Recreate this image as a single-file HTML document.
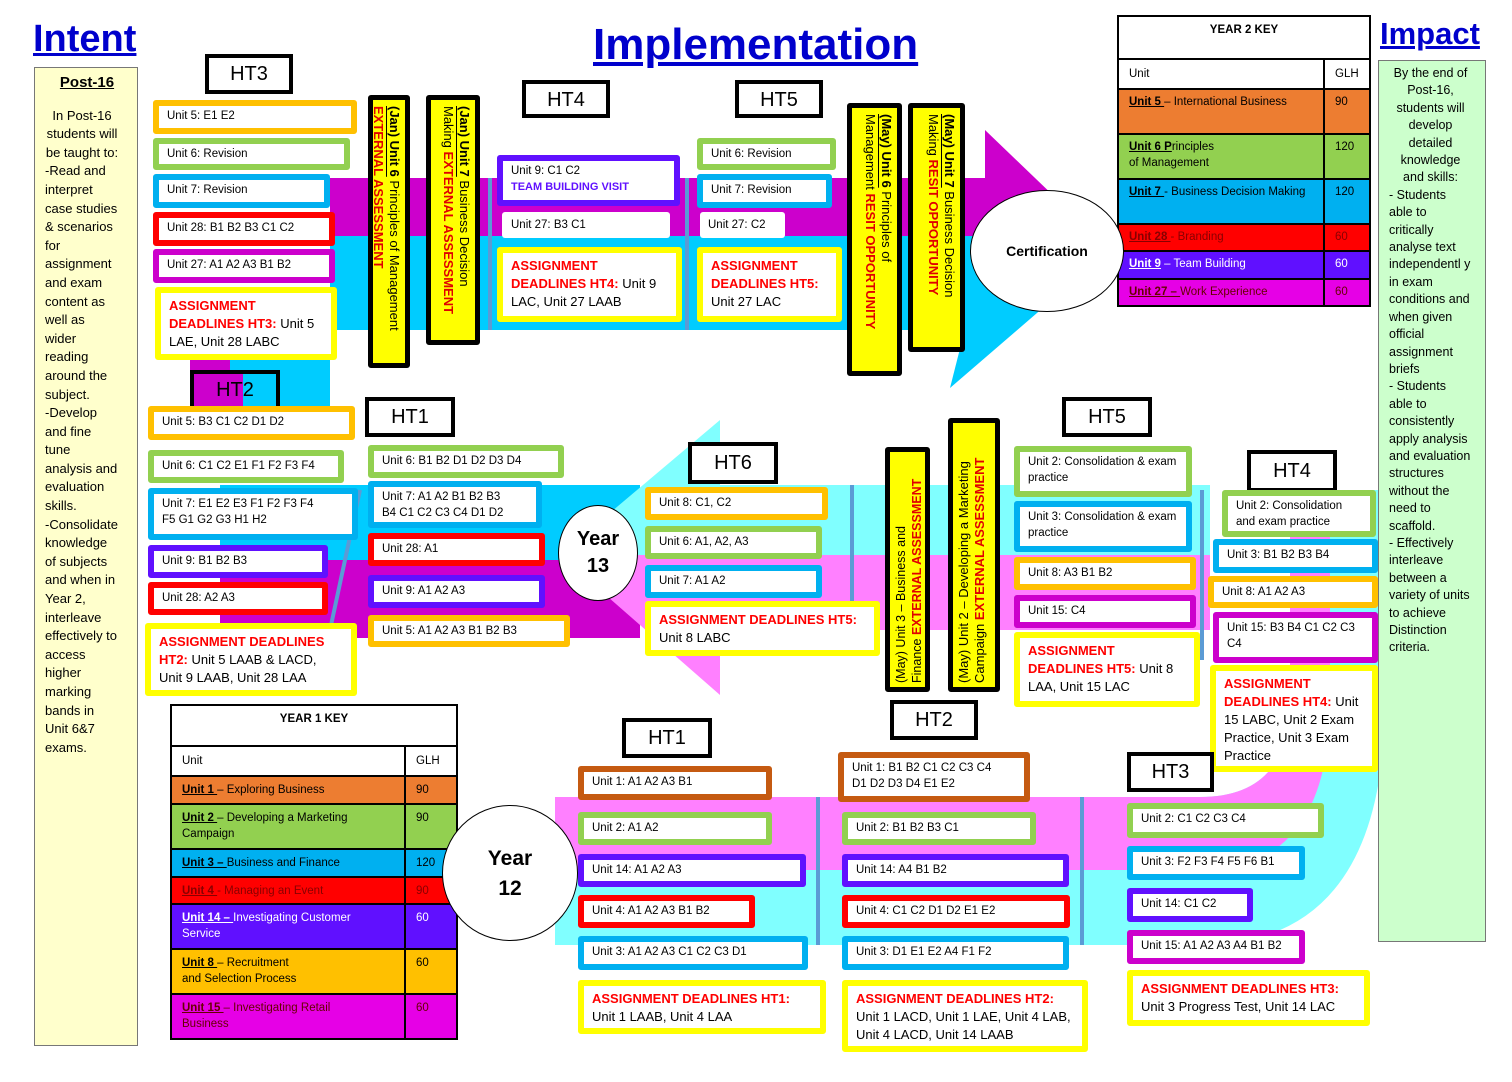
<!DOCTYPE html>
<html><head><meta charset="utf-8"><style>
body{margin:0;width:1512px;height:1082px;position:relative;background:#fff;font-family:"Liberation Sans",sans-serif;overflow:hidden}
.b{position:absolute;box-sizing:border-box;background:#fff;border:6px solid;font-size:11.5px;padding:2px 8px;line-height:16px;border-radius:3px;color:#000;white-space:nowrap}
.y{border-color:#ffff00;font-size:13px;line-height:18px;padding:4px 8px;white-space:normal}
.y b{color:#ff0000}
.o{border-color:#ffc000}.g{border-color:#92d050}.c{border-color:#00b0f0}.r{border-color:#ff0000}.m{border-color:#cc00cc}.p{border-color:#6010ff}.br{border-color:#c55a11}
.h{position:absolute;box-sizing:border-box;border:4px solid #000;background:#fff;font-size:20px;text-align:center;line-height:32px}
.v{position:absolute;box-sizing:border-box;border:5px solid #000;background:#ffff00;font-size:13px;line-height:16px;writing-mode:vertical-rl;padding:6px 3px;border-radius:3px;white-space:nowrap}
.v b{color:#e00000}
.vu{transform:rotate(180deg)}
.el{position:absolute;border:1px solid #000;border-radius:50%;background:#fff;text-align:center;font-weight:bold}
table{position:absolute;border-collapse:collapse;font-size:11.5px}
td{border:2px solid #000;padding:1px 10px;vertical-align:top;line-height:16px;box-sizing:border-box}
td u{font-weight:bold}
</style></head><body>
<svg style="position:absolute;left:0;top:0" width="1512" height="1082">
<rect x="190" y="330" width="140" height="80" fill="#00ccff"/>
<rect x="190" y="330" width="40" height="80" fill="#cc00cc"/>
<rect x="330" y="178" width="660" height="58" fill="#cc00cc"/>
<rect x="330" y="236" width="660" height="94" fill="#00ccff"/>
<polygon points="985,130 1110,250 985,250" fill="#cc00cc"/>
<polygon points="985,250 1110,250 950,388" fill="#00ccff"/>
<rect x="220" y="485" width="420" height="75" fill="#00ccff"/>
<rect x="220" y="560" width="420" height="78" fill="#cc00cc"/>
<polygon points="720,420 560,555 720,555" fill="#80ffff"/>
<polygon points="560,555 720,555 720,695" fill="#ff80ff"/>
<rect x="720" y="485" width="490" height="70" fill="#80ffff"/>
<rect x="720" y="555" width="490" height="75" fill="#ff80ff"/>
<path d="M1200,797 L1200,945 Q1385,945 1385,700 L1385,490 L1290,490 L1290,700 Q1290,797 1200,797 Z" fill="#80ffff"/>
<path d="M1200,797 L1200,870 Q1330,870 1330,700 L1330,490 L1290,490 L1290,700 Q1290,797 1200,797Z" fill="#ff80ff"/>
<rect x="555" y="797" width="660" height="73" fill="#ff80ff"/>
<rect x="555" y="870" width="660" height="75" fill="#80ffff"/>
<g stroke="#5b9bd5" stroke-width="4">
<line x1="490" y1="178" x2="490" y2="330"/><line x1="687" y1="178" x2="687" y2="330"/>
<line x1="852" y1="485" x2="852" y2="655"/><line x1="1202" y1="490" x2="1202" y2="660"/>
<line x1="818" y1="797" x2="818" y2="945"/><line x1="1082" y1="797" x2="1082" y2="945"/>
<line x1="360" y1="490" x2="330" y2="630"/>
</g>
</svg>

<div style="position:absolute;left:33px;top:18px;font-size:38px;font-weight:bold;color:#0000cc;text-decoration:underline">Intent</div>
<div style="position:absolute;left:593px;top:20px;font-size:44px;font-weight:bold;color:#0000cc;text-decoration:underline">Implementation</div>
<div style="position:absolute;left:1380px;top:16px;font-size:31px;font-weight:bold;color:#0000cc;text-decoration:underline">Impact</div>

<div style="position:absolute;left:34px;top:67px;width:104px;height:979px;box-sizing:border-box;border:1px solid #777;background:#ffffcc;font-size:13px;line-height:18.6px;padding:6px 18px 0 10px">
<div style="text-align:center;font-weight:bold;text-decoration:underline;font-size:15px;margin-bottom:14px;margin-right:-10px">Post-16</div>
<div style="text-align:center">In Post-16 students will be taught to:</div>
-Read and interpret case studies &amp; scenarios for assignment and exam content as well as wider reading around the subject.<br>-Develop and fine tune analysis and evaluation skills.<br>-Consolidate knowledge of subjects and when in Year 2, interleave effectively to access higher marking bands in Unit 6&amp;7 exams.</div>

<div style="position:absolute;left:1378px;top:60px;width:108px;height:882px;box-sizing:border-box;border:1px solid #777;background:#ccffcc;font-size:12.5px;line-height:17.4px;padding:4px 13px 0 10px">
<div style="text-align:center">By the end of Post-16, students will develop detailed knowledge and skills:</div>- Students able to critically analyse text independentl y in exam conditions and when given official assignment briefs<br>- Students able to consistently apply analysis and evaluation structures without the need to scaffold.<br>- Effectively interleave between a variety of units to achieve Distinction criteria.</div>

<table style="left:1117px;top:15px;width:254px">
<tr><td colspan="2" style="height:43px;text-align:center;font-weight:bold;padding-top:5px">YEAR 2 KEY</td></tr>
<tr><td style="height:30px;padding-top:6px">Unit</td><td style="width:46px;padding-top:6px">GLH</td></tr>
<tr style="background:#ed7d31"><td style="height:45px;padding-top:4px"><u>Unit 5 </u>– International Business</td><td style="padding-top:4px">90</td></tr>
<tr style="background:#92d050"><td style="height:45px;padding-top:4px"><u>Unit 6 P</u>rinciples<br>of Management</td><td style="padding-top:4px">120</td></tr>
<tr style="background:#00b0f0"><td style="height:45px;padding-top:4px"><u>Unit 7 </u>- Business Decision Making</td><td style="padding-top:4px">120</td></tr>
<tr style="background:#ff0000;color:#800"><td style="height:27px;padding-top:4px"><u>Unit 28 </u>- Branding</td><td style="padding-top:4px">60</td></tr>
<tr style="background:#6010ff;color:#fff"><td style="height:28px;padding-top:4px"><u>Unit 9</u> – Team Building</td><td style="padding-top:4px">60</td></tr>
<tr style="background:#e600e6;color:#600"><td style="height:27px;padding-top:4px"><u>Unit 27 – </u>Work Experience</td><td style="padding-top:4px">60</td></tr>
</table>

<table style="left:170px;top:704px;width:288px">
<tr><td colspan="2" style="height:41px;text-align:center;font-weight:bold;padding-top:5px">YEAR 1 KEY</td></tr>
<tr><td style="height:30px;padding-top:6px">Unit</td><td style="width:52px;padding-top:6px">GLH</td></tr>
<tr style="background:#ed7d31"><td style="height:28px;padding-top:5px"><u>Unit 1 </u>– Exploring Business</td><td style="padding-top:5px">90</td></tr>
<tr style="background:#92d050"><td style="height:45px;padding-top:5px"><u>Unit 2 </u>– Developing a Marketing Campaign</td><td style="padding-top:5px">90</td></tr>
<tr style="background:#00b0f0"><td style="height:28px;padding-top:5px"><u>Unit 3 – </u>Business and Finance</td><td style="padding-top:5px">120</td></tr>
<tr style="background:#ff0000;color:#800"><td style="height:27px;padding-top:5px"><u>Unit 4 </u>- Managing an Event</td><td style="padding-top:5px">90</td></tr>
<tr style="background:#6010ff;color:#fff"><td style="height:45px;padding-top:5px"><u>Unit 14 – </u>Investigating Customer<br>Service</td><td style="padding-top:5px">60</td></tr>
<tr style="background:#ffc000"><td style="height:45px;padding-top:5px"><u>Unit 8 </u>– Recruitment<br>and Selection Process</td><td style="padding-top:5px">60</td></tr>
<tr style="background:#e600e6;color:#600"><td style="height:45px;padding-top:5px"><u>Unit 15 </u>– Investigating Retail<br>Business</td><td style="padding-top:5px">60</td></tr>
</table>

<div class="h" style="left:205px;top:54px;width:88px;height:40px">HT3</div>
<div class="b o" style="left:153px;top:100px;width:204px;height:34px">Unit 5: E1 E2</div>
<div class="b g" style="left:153px;top:138px;width:197px;height:32px">Unit 6: Revision</div>
<div class="b c" style="left:153px;top:174px;width:177px;height:34px">Unit 7: Revision</div>
<div class="b r" style="left:153px;top:212px;width:182px;height:34px">Unit 28: B1 B2 B3 C1 C2</div>
<div class="b m" style="left:153px;top:249px;width:182px;height:34px">Unit 27: A1 A2 A3 B1 B2</div>
<div class="b y" style="left:155px;top:287px;width:182px;height:73px"><b>ASSIGNMENT DEADLINES HT3:</b> Unit 5 LAE, Unit 28 LABC</div>
<div class="v" style="left:368px;top:95px;width:42px;height:273px"><span><b style="color:#000;text-decoration:underline">(Jan) Unit 6</b> Principles of Management<br><b>EXTERNAL ASSESSMENT</b></span></div>
<div class="v" style="left:426px;top:95px;width:54px;height:250px"><span><b style="color:#000;text-decoration:underline">(Jan) Unit 7</b> Business Decision<br>Making <b>EXTERNAL ASSESSMENT</b></span></div>

<div class="h" style="left:522px;top:80px;width:88px;height:38px">HT4</div>
<div class="b p" style="left:497px;top:155px;width:183px;height:51px">Unit 9: C1 C2<br><b style="color:#6010ff;font-size:11px">TEAM BUILDING VISIT</b></div>
<div class="b" style="left:502px;top:212px;width:168px;height:26px;border:none;padding:5px 9px">Unit 27: B3 C1</div>
<div class="b y" style="left:497px;top:247px;width:185px;height:75px"><b>ASSIGNMENT DEADLINES HT4:</b> Unit 9 LAC, Unit 27 LAAB</div>

<div class="h" style="left:735px;top:80px;width:88px;height:38px">HT5</div>
<div class="b g" style="left:697px;top:138px;width:139px;height:32px">Unit 6: Revision</div>
<div class="b c" style="left:697px;top:174px;width:135px;height:34px">Unit 7: Revision</div>
<div class="b" style="left:700px;top:212px;width:85px;height:26px;border:none;padding:5px 8px">Unit 27: C2</div>
<div class="b y" style="left:697px;top:247px;width:145px;height:75px"><b>ASSIGNMENT DEADLINES HT5:</b> Unit 27 LAC</div>
<div class="v" style="left:847px;top:103px;width:55px;height:273px"><span><b style="color:#000;text-decoration:underline">(May) Unit 6</b> Principles of<br>Management <b>RESIT OPPORTUNITY</b></span></div>
<div class="v" style="left:908px;top:103px;width:57px;height:249px"><span><b style="color:#000;text-decoration:underline">(May) Unit 7</b> Business Decision<br>Making <b>RESIT OPPORTUNITY</b></span></div>
<div class="el" style="left:970px;top:190px;width:152px;height:120px;line-height:120px;font-size:14px">Certification</div>

<div class="h" style="left:190px;top:370px;width:90px;height:40px;background:linear-gradient(90deg,#cc00cc 60%,#00ccff 60%)">HT2</div>
<div class="b o" style="left:148px;top:406px;width:207px;height:34px">Unit 5: B3 C1 C2 D1 D2</div>
<div class="b g" style="left:148px;top:450px;width:196px;height:33px">Unit 6: C1 C2 E1 F1 F2 F3 F4</div>
<div class="b c" style="left:148px;top:488px;width:210px;height:52px">Unit 7: E1 E2 E3 F1 F2 F3 F4<br>F5 G1 G2 G3 H1 H2</div>
<div class="b p" style="left:148px;top:545px;width:180px;height:33px">Unit 9: B1 B2 B3</div>
<div class="b r" style="left:148px;top:582px;width:180px;height:33px">Unit 28: A2 A3</div>
<div class="b y" style="left:145px;top:623px;width:212px;height:73px"><b>ASSIGNMENT DEADLINES HT2:</b> Unit 5 LAAB &amp; LACD, Unit 9 LAAB, Unit 28 LAA</div>

<div class="h" style="left:365px;top:397px;width:90px;height:40px">HT1</div>
<div class="b g" style="left:368px;top:445px;width:196px;height:33px">Unit 6: B1 B2 D1 D2 D3 D4</div>
<div class="b c" style="left:368px;top:481px;width:174px;height:47px">Unit 7: A1 A2 B1 B2 B3<br>B4 C1 C2 C3 C4 D1 D2</div>
<div class="b r" style="left:368px;top:533px;width:177px;height:33px">Unit 28: A1</div>
<div class="b p" style="left:368px;top:575px;width:177px;height:33px">Unit 9: A1 A2 A3</div>
<div class="b o" style="left:368px;top:615px;width:202px;height:32px">Unit 5: A1 A2 A3 B1 B2 B3</div>
<div class="el" style="left:558px;top:505px;width:80px;height:96px;font-size:20px;line-height:27px;padding-top:20px;box-sizing:border-box">Year<br>13</div>

<div class="h" style="left:688px;top:442px;width:90px;height:42px;line-height:34px">HT6</div>
<div class="b o" style="left:645px;top:487px;width:183px;height:33px">Unit 8: C1, C2</div>
<div class="b g" style="left:645px;top:526px;width:177px;height:33px">Unit 6: A1, A2, A3</div>
<div class="b c" style="left:645px;top:565px;width:177px;height:33px">Unit 7: A1 A2</div>
<div class="b y" style="left:645px;top:601px;width:235px;height:55px"><b>ASSIGNMENT DEADLINES HT5:</b><br>Unit 8 LABC</div>
<div class="v vu" style="left:885px;top:447px;width:45px;height:245px;font-size:12.5px;padding:4px 3px"><span>(May) Unit 3 – Business and<br>Finance <b>EXTERNAL ASSESSMENT</b></span></div>
<div class="v vu" style="left:948px;top:418px;width:52px;height:274px;font-size:13px;padding:4px 3px"><span>(May) Unit 2 – Developing a Marketing<br>Campaign <b>EXTERNAL ASSESSMENT</b></span></div>

<div class="h" style="left:1062px;top:397px;width:90px;height:40px">HT5</div>
<div class="b g" style="left:1014px;top:446px;width:178px;height:51px;white-space:normal">Unit 2: Consolidation &amp; exam practice</div>
<div class="b c" style="left:1014px;top:501px;width:178px;height:51px;white-space:normal">Unit 3: Consolidation &amp; exam practice</div>
<div class="b o" style="left:1014px;top:557px;width:182px;height:33px">Unit 8: A3 B1 B2</div>
<div class="b m" style="left:1014px;top:595px;width:182px;height:33px">Unit 15: C4</div>
<div class="b y" style="left:1014px;top:632px;width:186px;height:75px"><b>ASSIGNMENT DEADLINES HT5:</b> Unit 8 LAA, Unit 15 LAC</div>

<div class="h" style="left:1247px;top:450px;width:90px;height:42px;line-height:34px">HT4</div>
<div class="b g" style="left:1222px;top:490px;width:154px;height:47px;white-space:normal">Unit 2: Consolidation and exam practice</div>
<div class="b c" style="left:1213px;top:539px;width:165px;height:34px">Unit 3: B1 B2 B3 B4</div>
<div class="b o" style="left:1208px;top:576px;width:170px;height:32px">Unit 8: A1 A2 A3</div>
<div class="b m" style="left:1213px;top:612px;width:165px;height:51px;white-space:normal">Unit 15: B3 B4 C1 C2 C3 C4</div>
<div class="b y" style="left:1210px;top:665px;width:168px;height:107px"><b>ASSIGNMENT DEADLINES HT4:</b> Unit 15 LABC, Unit 2 Exam Practice, Unit 3 Exam Practice</div>

<div class="el" style="left:442px;top:805px;width:136px;height:136px;font-size:21px;line-height:30px;padding-top:38px;box-sizing:border-box">Year<br>12</div>
<div class="h" style="left:622px;top:718px;width:90px;height:40px">HT1</div>
<div class="b br" style="left:578px;top:766px;width:194px;height:34px">Unit 1: A1 A2 A3 B1</div>
<div class="b g" style="left:578px;top:812px;width:194px;height:33px">Unit 2: A1 A2</div>
<div class="b p" style="left:578px;top:854px;width:228px;height:33px">Unit 14: A1 A2 A3</div>
<div class="b r" style="left:578px;top:895px;width:177px;height:33px">Unit 4: A1 A2 A3 B1 B2</div>
<div class="b c" style="left:578px;top:936px;width:230px;height:34px">Unit 3: A1 A2 A3 C1 C2 C3 D1</div>
<div class="b y" style="left:578px;top:980px;width:248px;height:54px"><b>ASSIGNMENT DEADLINES HT1:</b><br>Unit 1 LAAB, Unit 4 LAA</div>

<div class="h" style="left:890px;top:700px;width:88px;height:40px">HT2</div>
<div class="b br" style="left:838px;top:752px;width:192px;height:50px">Unit 1: B1 B2 C1 C2 C3 C4<br>D1 D2 D3 D4 E1 E2</div>
<div class="b g" style="left:842px;top:812px;width:194px;height:33px">Unit 2: B1 B2 B3 C1</div>
<div class="b p" style="left:842px;top:854px;width:227px;height:33px">Unit 14: A4 B1 B2</div>
<div class="b r" style="left:842px;top:895px;width:228px;height:33px">Unit 4: C1 C2 D1 D2 E1 E2</div>
<div class="b c" style="left:842px;top:936px;width:227px;height:34px">Unit 3: D1 E1 E2 A4 F1 F2</div>
<div class="b y" style="left:842px;top:980px;width:246px;height:72px"><b>ASSIGNMENT DEADLINES HT2:</b> Unit 1 LACD, Unit 1 LAE, Unit 4 LAB, Unit 4 LACD, Unit 14 LAAB</div>

<div class="h" style="left:1127px;top:752px;width:87px;height:40px">HT3</div>
<div class="b g" style="left:1127px;top:803px;width:197px;height:35px">Unit 2: C1 C2 C3 C4</div>
<div class="b c" style="left:1127px;top:846px;width:178px;height:34px">Unit 3: F2 F3 F4 F5 F6 B1</div>
<div class="b p" style="left:1127px;top:888px;width:126px;height:34px">Unit 14: C1 C2</div>
<div class="b m" style="left:1127px;top:930px;width:178px;height:34px">Unit 15: A1 A2 A3 A4 B1 B2</div>
<div class="b y" style="left:1127px;top:970px;width:243px;height:56px"><b>ASSIGNMENT DEADLINES HT3:</b><br>Unit 3 Progress Test, Unit 14 LAC</div>
</body></html>
